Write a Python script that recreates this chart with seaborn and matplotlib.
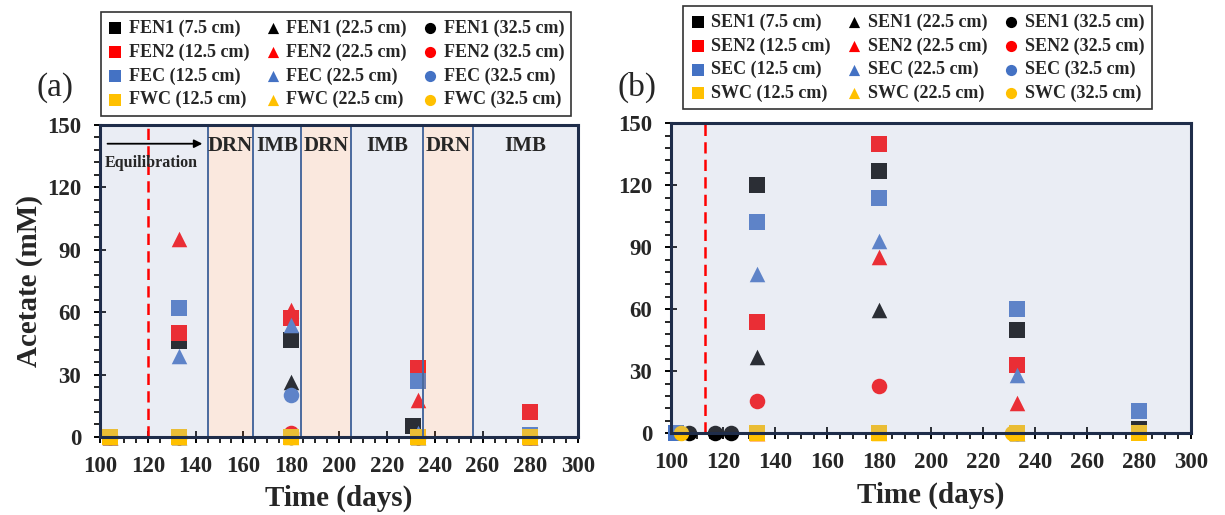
import matplotlib
matplotlib.use("Agg")
import matplotlib.pyplot as plt
from matplotlib.ticker import MultipleLocator
import seaborn as sns
import pandas as pd

sns.set_theme(style="ticks")
plt.rcParams['font.family'] = ['Liberation Serif', 'DejaVu Serif']
plt.rcParams['font.weight'] = 'bold'
plt.rcParams['axes.labelweight'] = 'bold'

# ---------------- data: panel (a) ----------------
sites_a = ["FEN1", "FEN2", "FEC", "FWC"]
sq_depths_a = ["7.5", "12.5", "12.5", "12.5"]

fen1_sq_days = [104, 133, 180, 231, 280]
fen1_sq_vals = [0, 46, 46.5, 5.5, 1]
fen2_sq_days = [104, 133, 180, 233, 280]
fen2_sq_vals = [0, 50, 57, 33, 12]
fec_sq_days = [104, 133, 180, 233, 280]
fec_sq_vals = [0, 62, 0, 27, 1]
fwc_sq_days = [104, 133, 180, 233, 280]
fwc_sq_vals = [0, 0, 0, 0, 0]

fen1_tri_days = [104, 133, 180, 233, 280]
fen1_tri_vals = [0, 0, 26.5, 0, 0]
fen2_tri_days = [104, 133, 180, 233, 280]
fen2_tri_vals = [0, 95, 61, 18, 0]
fec_tri_days = [104, 133, 180, 233, 280]
fec_tri_vals = [0, 39, 54, 2, 0]
fwc_tri_days = [104, 133, 180, 233, 280]
fwc_tri_vals = [0, 0, 0, 0, 0]

fen1_cir_days = [104, 133, 180, 233, 280]
fen1_cir_vals = [0, 0, 0, 0, 0]
fen2_cir_days = [104, 133, 180, 233, 280]
fen2_cir_vals = [0, 0, 2, 0, 0]
fec_cir_days = [104, 133, 180, 233, 280]
fec_cir_vals = [0, 0, 20, 0, 0]
fwc_cir_days = [104, 133, 180, 233, 280]
fwc_cir_vals = [0, 0, 0, 0, 0]

phase_edges = [100, 145, 164, 184, 205, 235, 256, 300]
phase_names = ["", "DRN", "IMB", "DRN", "IMB", "DRN", "IMB"]
start_day_a = 120

# ---------------- data: panel (b) ----------------
sites_b = ["SEN1", "SEN2", "SEC", "SWC"]
sq_depths_b = ["7.5", "12.5", "12.5", "12.5"]

sen1_sq_days = [133, 180, 233, 280]
sen1_sq_vals = [120, 127, 50, 2]
sen2_sq_days = [133, 180, 233, 280]
sen2_sq_vals = [54, 140, 33, 0]
sec_sq_days = [102, 133, 180, 233, 280]
sec_sq_vals = [0, 102, 114, 60, 10.5]
swc_sq_days = [133, 180, 233, 280]
swc_sq_vals = [0, 0, 0, 0]

sen1_tri_days = [133, 180, 233]
sen1_tri_vals = [37, 59.5, 0]
sen2_tri_days = [133, 180, 233]
sen2_tri_vals = [0, 85, 14.5]
sec_tri_days = [133, 180, 233]
sec_tri_vals = [77, 93, 28]
swc_tri_days = [133, 180, 233]
swc_tri_vals = [0, 0, 0]

sen1_cir_days = [107, 117, 123]
sen1_cir_vals = [0, 0, 0]
sen2_cir_days = [133, 180]
sen2_cir_vals = [15.5, 23]
sec_cir_days = [233]
sec_cir_vals = [0]
swc_cir_days = [104, 231]
swc_cir_vals = [0, 0]

start_day_b = 113

colors = ["#000000", "#ff0000", "#4472c4", "#ffc000"]
shapes = ["s", "^", "o"]

series_a = [
    [(fen1_sq_days, fen1_sq_vals), (fen1_tri_days, fen1_tri_vals), (fen1_cir_days, fen1_cir_vals)],
    [(fen2_sq_days, fen2_sq_vals), (fen2_tri_days, fen2_tri_vals), (fen2_cir_days, fen2_cir_vals)],
    [(fec_sq_days, fec_sq_vals), (fec_tri_days, fec_tri_vals), (fec_cir_days, fec_cir_vals)],
    [(fwc_sq_days, fwc_sq_vals), (fwc_tri_days, fwc_tri_vals), (fwc_cir_days, fwc_cir_vals)],
]
series_b = [
    [(sen1_sq_days, sen1_sq_vals), (sen1_tri_days, sen1_tri_vals), (sen1_cir_days, sen1_cir_vals)],
    [(sen2_sq_days, sen2_sq_vals), (sen2_tri_days, sen2_tri_vals), (sen2_cir_days, sen2_cir_vals)],
    [(sec_sq_days, sec_sq_vals), (sec_tri_days, sec_tri_vals), (sec_cir_days, sec_cir_vals)],
    [(swc_sq_days, swc_sq_vals), (swc_tri_days, swc_tri_vals), (swc_cir_days, swc_cir_vals)],
]

fig = plt.figure(figsize=(12.25, 5.15), dpi=100)
ax_a = fig.add_axes([0.0816, 0.1515, 0.3904, 0.6058])
ax_b = fig.add_axes([0.5478, 0.159, 0.4245, 0.6019])

BLUE_OV = (172/255, 184/255, 212/255)
ORNG_OV = (239/255, 167/255, 127/255)
SPINE = "#1f2d4a"


def draw_panel(ax, sites, sq_depths, series):
    handles = {}
    for si, site in enumerate(sites):
        for k, (days, vals) in enumerate(series[si]):
            depth = sq_depths[si] if k == 0 else ("22.5" if k == 1 else "32.5")
            lbl = f"{site} ({depth} cm)"
            df = pd.DataFrame({"Time": days, "Acetate": vals})
            sns.scatterplot(data=df, x="Time", y="Acetate", ax=ax, marker=shapes[k],
                            color=colors[si], s=125, linewidth=0, label=lbl,
                            clip_on=False, zorder=2)
            handles[(k, si)] = lbl
    if ax.get_legend() is not None:
        ax.get_legend().remove()
    h, l = ax.get_legend_handles_labels()
    lookup = dict(zip(l, h))
    order = [handles[(k, si)] for k in range(3) for si in range(4)]
    return [lookup[x] for x in order], order


def style_axes(ax):
    ax.set_xlim(100, 300)
    ax.set_ylim(0, 150)
    ax.set_xticks(range(100, 301, 20))
    ax.set_yticks(range(0, 151, 30))
    ax.xaxis.set_minor_locator(MultipleLocator(5))
    ax.yaxis.set_minor_locator(MultipleLocator(6))
    ax.tick_params(which="major", direction="inout", length=9, width=1.4,
                   color="black", labelsize=16.5, pad=9)
    ax.tick_params(which="minor", direction="out", length=4.5, width=1.2, color="black")
    for lab in ax.get_xticklabels() + ax.get_yticklabels():
        lab.set_fontweight("bold")
    for sp in ax.spines.values():
        sp.set_color(SPINE)
        sp.set_linewidth(2.2)
        sp.set_zorder(6)
    ax.set_facecolor("white")
    ax.set_xlabel("Time (days)", fontsize=21, fontweight="bold", labelpad=6)


# ---- panel (a)
h_a, l_a = draw_panel(ax_a, sites_a, sq_depths_a, series_a)
for i in range(len(phase_edges) - 1):
    c = ORNG_OV if phase_names[i] == "DRN" else BLUE_OV
    ax_a.axvspan(phase_edges[i], phase_edges[i + 1], facecolor=c, alpha=0.25,
                 edgecolor="none", zorder=3)
    if phase_names[i]:
        ax_a.text((phase_edges[i] + phase_edges[i + 1]) / 2, 140, phase_names[i],
                  ha="center", va="center", fontsize=15, fontweight="bold", zorder=5)
for e in phase_edges[1:-1]:
    ax_a.axvline(e, color="#4a6a9e", lw=1.4, zorder=4)
ax_a.axvline(start_day_a, color="#ff0000", lw=1.8, ls=(0, (4.5, 2.5)), zorder=4)
ax_a.annotate("", xy=(144, 141), xytext=(102, 141),
              arrowprops=dict(arrowstyle="-|>", color="black", lw=1.3), zorder=5)
ax_a.text(102, 131.5, "Equilibration", ha="left", va="center", fontsize=11.5,
          fontweight="bold", zorder=5)
style_axes(ax_a)
ax_a.set_ylabel("Acetate (mM)", fontsize=21, fontweight="bold", labelpad=3)

# ---- panel (b)
h_b, l_b = draw_panel(ax_b, sites_b, sq_depths_b, series_b)
ax_b.axvspan(100, 300, facecolor=BLUE_OV, alpha=0.25, edgecolor="none", zorder=3)
ax_b.axvline(start_day_b, color="#ff0000", lw=1.8, ls=(0, (4.5, 2.5)), zorder=4)
style_axes(ax_b)
ax_b.set_ylabel("")

# ---- legends
leg_kw = dict(loc="upper left", ncol=3, mode="expand", frameon=True, fancybox=False,
              markerscale=0.72, handletextpad=0.35, columnspacing=0.5, labelspacing=0.36,
              borderpad=0.4, handlelength=0.8, borderaxespad=0,
              prop={"family": "Liberation Serif", "weight": "bold", "size": 13})
leg1 = fig.legend(h_a, l_a, bbox_to_anchor=(0.0824, 0.793, 0.384, 0.183), **leg_kw)
leg2 = fig.legend(h_b, l_b, bbox_to_anchor=(0.5576, 0.808, 0.3824, 0.18), **leg_kw)
for lg in (leg1, leg2):
    lg.get_frame().set_edgecolor("black")
    lg.get_frame().set_linewidth(1.2)

fig.text(0.045, 0.83, "(a)", fontsize=24, fontweight="normal", ha="center", va="center")
fig.text(0.52, 0.83, "(b)", fontsize=24, fontweight="normal", ha="center", va="center")

fig.savefig("out.png", dpi=100)
